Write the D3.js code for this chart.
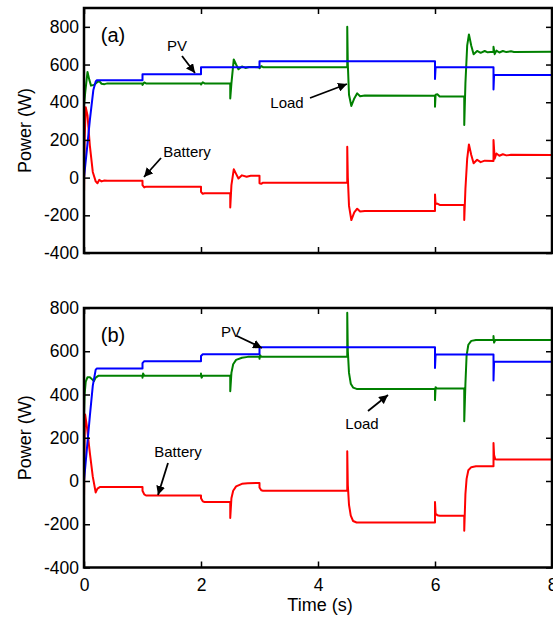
<!DOCTYPE html>
<html>
<head>
<meta charset="utf-8">
<script src="https://cdn.jsdelivr.net/npm/d3@7"></script>
<style>
  body { margin: 0; background: #fff; }
  svg { display: block; }
  text { font-family: "Liberation Sans", Arial, sans-serif; }
</style>
</head>
<body>
<svg id="chart" width="553" height="618"></svg>
<script>
// ---------- DATA ----------
const xTicks = [0, 2, 4, 6, 8];
const yTicks = [-400, -200, 0, 200, 400, 600, 800];

// Panel (a): [time s, power W]
const pvA = [[0,0],[0.05,150],[0.1,305],[0.16,465],[0.2,510],[0.22,517],[1.0,517],[1.0,549],[2.0,549],[2.0,586],[3.0,586],[3.0,617],[6.0,617],[6.0,523],[6.01,585],[7.0,585],[7.0,468],[7.01,545],[8,545]];
const loadA = [[0,380],[0.02,450],[0.06,561],[0.09,520],[0.12,488],[0.17,492],[0.22,505],[0.26,512],[0.3,498],[0.35,496],[0.4,500],[1.0,500],[1.0,492],[1.03,505],[1.06,500],[2.0,500],[2.0,494],[2.03,506],[2.06,500],[2.5,500],[2.5,420],[2.52,500],[2.56,627],[2.6,600],[2.64,575],[2.7,590],[2.76,582],[2.82,587],[3.0,586],[3.0,580],[3.03,592],[3.06,586],[4.5,586],[4.5,800],[4.51,600],[4.53,440],[4.57,380],[4.62,420],[4.67,447],[4.72,432],[4.8,436],[6.0,434],[6.0,376],[6.01,440],[6.04,442],[6.08,430],[6.5,430],[6.5,279],[6.52,500],[6.55,700],[6.58,760],[6.62,700],[6.66,655],[6.72,672],[6.78,662],[6.85,672],[6.9,665],[7.0,668],[7.0,694],[7.02,655],[7.05,674],[7.1,664],[7.16,672],[7.22,666],[7.3,670],[7.35,667],[8,668]];
const batA = [[0,-92],[0.01,200],[0.03,373],[0.06,330],[0.1,170],[0.15,30],[0.2,-20],[0.23,-30],[0.26,-12],[0.3,-20],[0.35,-15],[0.4,-16],[1.0,-16],[1.0,-40],[1.03,-52],[1.06,-48],[2.0,-48],[2.0,-75],[2.03,-86],[2.06,-83],[2.5,-83],[2.5,-158],[2.52,-40],[2.56,44],[2.6,20],[2.64,-5],[2.7,12],[2.78,5],[2.85,10],[3.0,10],[3.0,-30],[3.03,-33],[3.06,-27],[4.5,-27],[4.5,164],[4.51,0],[4.53,-150],[4.57,-225],[4.62,-185],[4.67,-165],[4.72,-180],[4.8,-177],[6.0,-177],[6.0,-89],[6.01,-140],[6.04,-138],[6.08,-145],[6.5,-145],[6.5,-225],[6.52,-60],[6.55,100],[6.58,176],[6.62,120],[6.66,76],[6.72,95],[6.78,82],[6.85,90],[7.0,88],[7.0,199],[7.02,100],[7.05,128],[7.1,116],[7.16,124],[7.22,118],[7.3,121],[8,120]];

// Panel (b)
const pvB = [[0,0],[0.05,150],[0.1,300],[0.15,440],[0.2,515],[0.22,520],[1.0,520],[1.0,545],[1.03,554],[2.0,554],[2.0,578],[2.03,586],[3.0,586],[3.0,619],[6.0,619],[6.0,523],[6.01,585],[7.0,585],[7.0,465],[7.01,551],[8,551]];
const loadB = [[0,300],[0.01,400],[0.03,460],[0.06,480],[0.1,480],[0.14,470],[0.17,462],[0.2,478],[0.25,487],[1.0,487],[1.0,478],[1.01,497],[1.03,487],[2.0,487],[2.0,497],[2.01,478],[2.03,487],[2.5,487],[2.5,415],[2.52,500],[2.55,540],[2.6,560],[2.7,570],[2.8,574],[3.0,574],[3.0,565],[3.01,582],[3.03,574],[4.5,574],[4.5,778],[4.51,600],[4.53,500],[4.56,450],[4.6,432],[4.66,426],[6.0,426],[6.0,374],[6.01,434],[6.03,428],[6.5,428],[6.5,276],[6.52,450],[6.54,580],[6.57,630],[6.62,648],[6.7,652],[7.0,652],[7.0,670],[7.01,640],[7.03,652],[8,652]];
const batB = [[0,-87],[0.01,200],[0.02,307],[0.05,250],[0.1,130],[0.15,20],[0.2,-53],[0.23,-35],[0.27,-28],[1.0,-28],[1.0,-45],[1.03,-62],[1.06,-67],[2.0,-67],[2.0,-80],[2.03,-94],[2.06,-97],[2.5,-97],[2.5,-171],[2.52,-80],[2.55,-45],[2.6,-25],[2.7,-13],[2.8,-10],[3.0,-9],[3.0,-30],[3.03,-43],[3.06,-45],[4.5,-45],[4.5,137],[4.51,-20],[4.53,-110],[4.56,-160],[4.6,-185],[4.66,-192],[6.0,-192],[6.0,-97],[6.01,-150],[6.04,-158],[6.08,-161],[6.5,-161],[6.5,-230],[6.52,-60],[6.54,10],[6.57,50],[6.62,64],[6.7,68],[7.0,68],[7.0,176],[7.01,120],[7.03,100],[7.06,99],[8,99]];

// ---------- DRAW ----------
const svg = d3.select("#chart");
const colors = { pv: "#0000ff", load: "#008000", bat: "#ff0000" };
const fmt = d => String(d);   // plain hyphen-minus as in the reference

const defs = svg.append("defs");
defs.append("marker").attr("id","arr").attr("viewBox","0 0 10 10")
  .attr("refX",10).attr("refY",5).attr("markerWidth",9).attr("markerHeight",9)
  .attr("markerUnits","userSpaceOnUse").attr("orient","auto")
  .append("path").attr("d","M0,0 L10,5 L0,10 z").attr("fill","#000");

const left = 84, right = 552;
const x = d3.scaleLinear().domain([0, 8]).range([left, right]);

function panel(top, bottom, yDomain, series, label, annots, showX) {
  const y = d3.scaleLinear().domain(yDomain).range([bottom, top]);
  const g = svg.append("g");
  const clipId = "clip" + label.replace(/\W/g,"");
  defs.append("clipPath").attr("id", clipId).append("rect")
    .attr("x", left).attr("y", top).attr("width", right-left).attr("height", bottom-top);

  const line = d3.line().x(d => x(d[0])).y(d => y(d[1]));
  const lg = g.append("g").attr("clip-path", `url(#${clipId})`);
  series.forEach(s => {
    lg.append("path").datum(s.data).attr("d", line)
      .attr("fill","none").attr("stroke", s.color).attr("stroke-width", 2)
      .attr("stroke-linejoin","round");
  });

  const styleAxis = sel => {
    sel.select(".domain").remove();
    sel.selectAll(".tick line").attr("stroke","#000").attr("stroke-width",1.5);
    sel.selectAll("text").attr("font-size","17.5px").attr("fill","#000")
      .style("font-family","'Liberation Sans', Arial, sans-serif");
  };
  g.append("g").attr("transform",`translate(${left},0)`)
    .call(d3.axisLeft(y).tickValues(yTicks).tickFormat(fmt).tickSizeInner(-6).tickSizeOuter(0).tickPadding(5))
    .call(styleAxis);
  g.append("g").attr("transform",`translate(${right},0)`)
    .call(d3.axisRight(y).tickValues(yTicks).tickSizeInner(-6).tickSizeOuter(0).tickFormat(""))
    .call(styleAxis);
  g.append("g").attr("transform",`translate(0,${top})`)
    .call(d3.axisTop(x).tickValues(xTicks).tickSizeInner(-6).tickSizeOuter(0).tickFormat(""))
    .call(styleAxis);
  const bAxis = d3.axisBottom(x).tickValues(xTicks).tickFormat(showX ? fmt : "")
    .tickSizeInner(-6).tickSizeOuter(0).tickPadding(11);
  g.append("g").attr("transform",`translate(0,${bottom})`).call(bAxis).call(styleAxis);

  g.append("rect").attr("x",left).attr("y",top).attr("width",right-left).attr("height",bottom-top)
    .attr("fill","none").attr("stroke","#000").attr("stroke-width",2.5);

  g.append("text").attr("x", left+29).attr("y", top+34).attr("text-anchor","middle")
    .attr("font-size","20px").text(label);

  g.append("text").attr("transform",`translate(31,${(top+bottom)/2}) rotate(-90)`)
    .attr("text-anchor","middle").attr("font-size","18px").text("Power (W)");

  annots.forEach(a => {
    g.append("text").attr("x", a.tx).attr("y", a.ty).attr("text-anchor","middle")
      .attr("font-size","15px").text(a.text);
    g.append("line").attr("x1", a.x1).attr("y1", a.y1).attr("x2", a.x2).attr("y2", a.y2)
      .attr("stroke","#000").attr("stroke-width",1.8).attr("marker-end","url(#arr)");
  });
}

panel(8, 253, [-400, 900],
  [{data: loadA, color: colors.load}, {data: batA, color: colors.bat}, {data: pvA, color: colors.pv}],
  "(a)",
  [
    {text:"PV", tx:177, ty:51, x1:182, y1:56, x2:195, y2:73},
    {text:"Load", tx:287, ty:108, x1:310, y1:98, x2:347, y2:84},
    {text:"Battery", tx:187, ty:157, x1:161, y1:158, x2:144, y2:177}
  ], false);

panel(308, 567.5, [-400, 800],
  [{data: loadB, color: colors.load}, {data: batB, color: colors.bat}, {data: pvB, color: colors.pv}],
  "(b)",
  [
    {text:"PV", tx:231, ty:337, x1:237, y1:336, x2:262, y2:348},
    {text:"Load", tx:362, ty:429, x1:368, y1:411, x2:388, y2:395},
    {text:"Battery", tx:178, ty:457, x1:168, y1:463, x2:158, y2:495}
  ], true);

svg.append("text").attr("x", 320).attr("y", 611).attr("text-anchor","middle")
  .attr("font-size","18px").text("Time (s)");
</script>
</body>
</html>
